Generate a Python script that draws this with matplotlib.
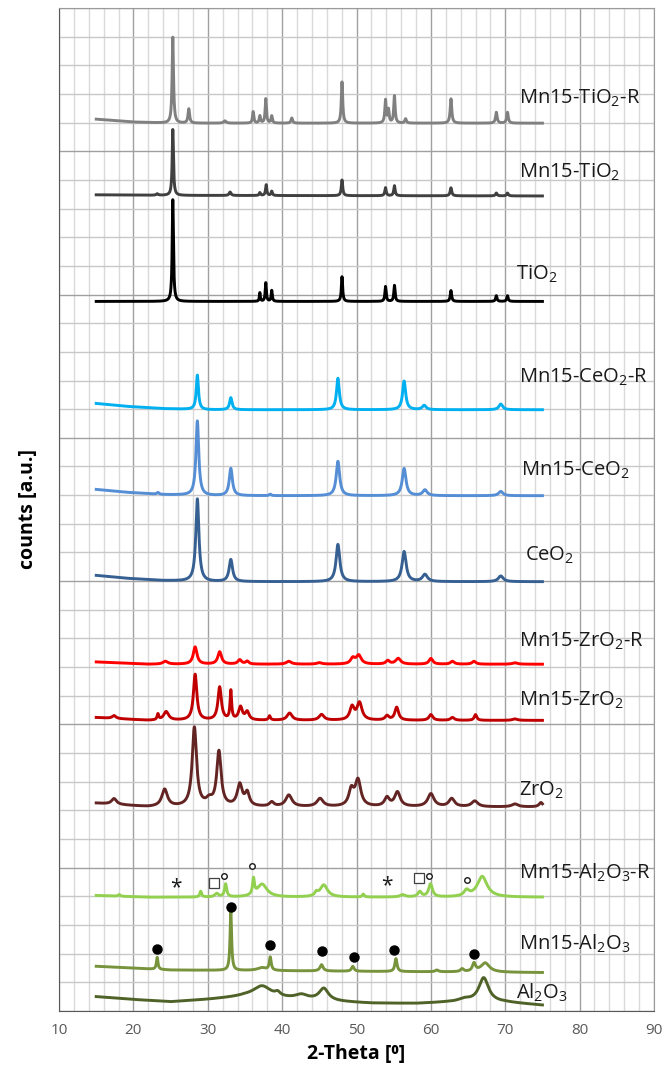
"""XRD patterns of Mn15 catalysts on TiO2, CeO2, ZrO2 and Al2O3 supports."""

import matplotlib.pyplot as plt
import numpy as np
from matplotlib.ticker import MultipleLocator


# ---- data ----------------------------------------------------------------
# each pattern: baseline control points + peaks (2-theta, height, FWHM)

tio2_r_base_x = [15, 20, 25, 75]
tio2_r_base_y = [31.12, 31.02, 30.98, 30.98]
tio2_r_pos = [25.3, 27.45, 32.3, 36.1, 37.0, 37.8, 38.6, 41.3, 48.05, 53.9, 54.3, 55.1, 56.6, 62.7, 68.8, 70.3]
tio2_r_h = [3.0, 0.5, 0.08, 0.4, 0.25, 0.85, 0.25, 0.18, 1.45, 0.8, 0.45, 0.95, 0.15, 0.85, 0.38, 0.38]
tio2_r_w = [0.22, 0.25, 0.4, 0.2, 0.2, 0.2, 0.2, 0.25, 0.22, 0.22, 0.2, 0.22, 0.25, 0.25, 0.25, 0.25]

mn_tio2_base_x = [15, 25, 75]
mn_tio2_base_y = [28.48, 28.46, 28.44]
mn_tio2_pos = [23.2, 25.3, 33.0, 37.0, 37.85, 38.6, 48.05, 53.9, 55.1, 62.7, 68.8, 70.3]
mn_tio2_h = [0.05, 2.3, 0.12, 0.1, 0.38, 0.15, 0.55, 0.28, 0.35, 0.28, 0.1, 0.1]
mn_tio2_w = [0.3, 0.2, 0.3, 0.2, 0.2, 0.2, 0.22, 0.22, 0.22, 0.25, 0.25, 0.25]

tio2_base_x = [15, 75]
tio2_base_y = [24.76, 24.76]
tio2_pos = [25.3, 37.0, 37.8, 38.6, 48.05, 53.9, 55.1, 62.7, 68.8, 70.3]
tio2_h = [3.55, 0.3, 0.65, 0.38, 0.87, 0.52, 0.56, 0.38, 0.2, 0.2]
tio2_w = [0.2, 0.15, 0.18, 0.18, 0.2, 0.2, 0.2, 0.22, 0.22, 0.22]

ceo2_r_base_x = [15, 19, 24, 30, 75]
ceo2_r_base_y = [21.2, 21.1, 21.02, 20.98, 20.98]
ceo2_r_pos = [28.6, 33.1, 47.5, 56.4, 59.1, 69.4]
ceo2_r_h = [1.2, 0.42, 1.1, 1.0, 0.15, 0.2]
ceo2_r_w = [0.35, 0.4, 0.45, 0.5, 0.6, 0.6]

mn_ceo2_base_x = [15, 19, 24, 30, 75]
mn_ceo2_base_y = [18.2, 18.1, 18.02, 17.98, 17.98]
mn_ceo2_pos = [23.3, 28.6, 33.1, 38.4, 47.5, 56.4, 59.2, 69.4]
mn_ceo2_h = [0.06, 2.6, 0.95, 0.05, 1.2, 0.95, 0.2, 0.15]
mn_ceo2_w = [0.3, 0.45, 0.5, 0.3, 0.55, 0.6, 0.7, 0.7]

ceo2_base_x = [15, 19, 24, 30, 75]
ceo2_base_y = [15.2, 15.1, 15.02, 14.98, 14.98]
ceo2_pos = [28.6, 33.1, 47.5, 56.4, 59.2, 69.4]
ceo2_h = [2.88, 0.77, 1.3, 1.05, 0.25, 0.2]
ceo2_w = [0.5, 0.55, 0.6, 0.65, 0.8, 0.8]

zro2_r_base_x = [15, 22, 75]
zro2_r_base_y = [12.18, 12.1, 12.1]
zro2_r_pos = [24.3, 28.3, 31.6, 34.3, 35.3, 40.9, 45.0, 49.5, 50.3, 54.2, 55.6, 60.0, 62.9, 65.8, 71.3]
zro2_r_h = [0.1, 0.6, 0.43, 0.15, 0.1, 0.1, 0.05, 0.2, 0.3, 0.12, 0.2, 0.2, 0.1, 0.1, 0.05]
zro2_r_w = [0.8, 0.6, 0.6, 0.6, 0.5, 0.8, 0.8, 0.7, 0.8, 0.6, 0.8, 0.6, 0.6, 0.6, 0.8]

mn_zro2_base_x = [15, 22, 75]
mn_zro2_base_y = [10.24, 10.14, 10.14]
mn_zro2_pos = [17.4, 23.3, 24.4, 28.3, 31.6, 33.1, 34.4, 35.3, 38.3, 41.0, 45.3, 49.4, 50.4,
               54.1, 55.4, 60.0, 62.9, 66.0, 71.3]
mn_zro2_h = [0.1, 0.2, 0.3, 1.6, 1.15, 1.0, 0.45, 0.28, 0.15, 0.25, 0.2, 0.45, 0.6,
             0.15, 0.45, 0.2, 0.1, 0.2, 0.05]
mn_zro2_w = [0.6, 0.25, 0.8, 0.55, 0.55, 0.25, 0.6, 0.6, 0.3, 0.8, 0.8, 0.7, 0.8,
             0.6, 0.6, 0.6, 0.6, 0.4, 0.8]

zro2_base_x = [15, 22, 75]
zro2_base_y = [7.25, 7.12, 7.12]
zro2_pos = [17.4, 24.2, 28.2, 30.2, 31.5, 34.3, 35.3, 38.6, 40.9, 45.1, 49.3, 50.2, 54.1,
            55.5, 60.0, 62.8, 65.9, 71.3, 74.8]
zro2_h = [0.2, 0.6, 2.75, 0.2, 1.9, 0.75, 0.45, 0.15, 0.4, 0.28, 0.55, 0.9, 0.3,
          0.5, 0.45, 0.28, 0.2, 0.1, 0.15]
zro2_w = [0.8, 0.9, 0.7, 1.0, 0.7, 0.8, 0.7, 0.7, 1.0, 1.0, 0.8, 0.9, 0.8,
          0.9, 1.0, 0.9, 1.0, 1.0, 0.6]

al2o3_r_base_x = [15, 22, 75]
al2o3_r_base_y = [4.03, 3.97, 3.97]
al2o3_r_pos = [18.1, 29.05, 31.2, 32.4, 36.15, 37.3, 44.6, 45.6, 50.9, 56.2, 58.5, 59.95, 64.8, 66.9]
al2o3_r_h = [0.06, 0.2, 0.12, 0.45, 0.55, 0.45, 0.12, 0.42, 0.1, 0.08, 0.18, 0.45, 0.2, 0.72]
al2o3_r_w = [0.3, 0.3, 0.6, 0.35, 0.3, 1.6, 0.5, 1.2, 0.3, 0.8, 0.6, 0.6, 0.8, 1.6]

mn_al2o3_base_x = [15, 25, 75]
mn_al2o3_base_y = [1.56, 1.43, 1.34]
mn_al2o3_pos = [23.2, 33.1, 37.3, 38.4, 45.3, 49.5, 55.3, 60.8, 64.2, 65.8, 67.3]
mn_al2o3_h = [0.42, 2.05, 0.1, 0.45, 0.22, 0.17, 0.45, 0.06, 0.1, 0.28, 0.32]
mn_al2o3_w = [0.25, 0.25, 1.5, 0.3, 0.5, 0.4, 0.35, 0.5, 0.5, 0.5, 1.4]

al2o3_base_x = [15, 20, 25, 30, 35, 48, 52, 58, 62, 70, 75]
al2o3_base_y = [0.5, 0.4, 0.32, 0.4, 0.5, 0.32, 0.27, 0.26, 0.3, 0.3, 0.2]
al2o3_pos = [37.3, 39.4, 42.6, 45.6, 64.5, 67.1]
al2o3_h = [0.4, 0.12, 0.15, 0.42, 0.1, 0.85]
al2o3_w = [3.0, 0.8, 2.0, 1.5, 2.0, 1.6]

# phase markers on the Al2O3 patterns
star_x = [25.7, 54.1]
star_y = [4.29, 4.36]
square_x = [30.9, 58.4]
square_y = [4.46, 4.63]
ring_x = [32.2, 36.0, 59.8, 64.8]
ring_y = [4.7, 5.05, 4.7, 4.56]
dot_x = [23.2, 33.1, 38.4, 45.3, 49.6, 55.1, 65.8]
dot_y = [2.17, 3.63, 2.30, 2.10, 1.89, 2.13, 1.98]

labels = [
    "Mn15-TiO$_2$-R", "Mn15-TiO$_2$", "TiO$_2$",
    "Mn15-CeO$_2$-R", "Mn15-CeO$_2$", "CeO$_2$",
    "Mn15-ZrO$_2$-R", "Mn15-ZrO$_2$", "ZrO$_2$",
    "Mn15-Al$_2$O$_3$-R", "Mn15-Al$_2$O$_3$", "Al$_2$O$_3$",
]

# ---- styling / layout ------------------------------------------------------
colors = [
    "#808080", "#404040", "#000000",
    "#00B0F0", "#558ED5", "#376092",
    "#FF0000", "#C00000", "#632523",
    "#92D050", "#77933C", "#4F6228",
]
label_xy = [
    (71.85, 31.86), (71.85, 29.28), (71.45, 25.72),
    (71.85, 22.1), (72.1, 18.86), (72.65, 15.89),
    (71.85, 12.9), (71.85, 10.84), (71.85, 7.7),
    (71.85, 4.81), (71.85, 2.34), (71.45, 0.63),
]

patterns = [
    (tio2_r_base_x, tio2_r_base_y, tio2_r_pos, tio2_r_h, tio2_r_w),
    (mn_tio2_base_x, mn_tio2_base_y, mn_tio2_pos, mn_tio2_h, mn_tio2_w),
    (tio2_base_x, tio2_base_y, tio2_pos, tio2_h, tio2_w),
    (ceo2_r_base_x, ceo2_r_base_y, ceo2_r_pos, ceo2_r_h, ceo2_r_w),
    (mn_ceo2_base_x, mn_ceo2_base_y, mn_ceo2_pos, mn_ceo2_h, mn_ceo2_w),
    (ceo2_base_x, ceo2_base_y, ceo2_pos, ceo2_h, ceo2_w),
    (zro2_r_base_x, zro2_r_base_y, zro2_r_pos, zro2_r_h, zro2_r_w),
    (mn_zro2_base_x, mn_zro2_base_y, mn_zro2_pos, mn_zro2_h, mn_zro2_w),
    (zro2_base_x, zro2_base_y, zro2_pos, zro2_h, zro2_w),
    (al2o3_r_base_x, al2o3_r_base_y, al2o3_r_pos, al2o3_r_h, al2o3_r_w),
    (mn_al2o3_base_x, mn_al2o3_base_y, mn_al2o3_pos, mn_al2o3_h, mn_al2o3_w),
    (al2o3_base_x, al2o3_base_y, al2o3_pos, al2o3_h, al2o3_w),
]


def profile(two_theta, base_x, base_y, pos, height, fwhm):
    """Baseline plus a sum of Lorentzian peaks."""
    y = np.interp(two_theta, base_x, base_y)
    for p, h, w in zip(pos, height, fwhm):
        y = y + h / (1.0 + ((two_theta - p) / (w / 2.0)) ** 2)
    return y


plt.rcParams["font.family"] = ["Open Sans", "DejaVu Sans"]
plt.rcParams["mathtext.default"] = "regular"

fig = plt.figure(figsize=(6.67, 10.77), dpi=100)
ax = fig.add_axes([0.0885, 0.0613, 0.892, 0.9313])

two_theta = np.linspace(15, 75, 3001)
for (bx, by, pos, h, w), color in zip(patterns, colors):
    ax.plot(two_theta, profile(two_theta, bx, by, pos, h, w), color=color, linewidth=2.1,
            solid_joinstyle="round", zorder=3)

for text, (x, y) in zip(labels, label_xy):
    ax.text(x, y, text, fontsize=14.5, va="center", ha="left", color="#1a1a1a", zorder=4)

for x, y in zip(star_x, star_y):
    ax.text(x, y, "*", fontsize=15, ha="center", va="center", color="#1a1a1a", zorder=4)
ax.plot(square_x, square_y, "s", markersize=7, markerfacecolor="white",
        markeredgecolor="#404040", markeredgewidth=0.9, zorder=4)
ax.plot(ring_x, ring_y, "o", markersize=4, markerfacecolor="white",
        markeredgecolor="#1a1a1a", markeredgewidth=1.0, zorder=4)
ax.plot(dot_x, dot_y, "o", markersize=6.5, color="black", zorder=4)

ax.set_xlim(10, 90)
ax.set_ylim(0, 35)
ax.xaxis.set_major_locator(MultipleLocator(10))
ax.xaxis.set_minor_locator(MultipleLocator(2))
ax.yaxis.set_major_locator(MultipleLocator(5))
ax.yaxis.set_minor_locator(MultipleLocator(1))
ax.grid(True, which="major", color="#a0a0a0", linewidth=1.0)
ax.xaxis.grid(True, which="minor", color="#dadada", linewidth=1.0)
ax.yaxis.grid(True, which="minor", color="#c8c8c8", linewidth=1.0)
ax.set_axisbelow(True)
ax.tick_params(which="both", length=0)
ax.tick_params(axis="x", labelsize=11, labelcolor="#595959", pad=9)
ax.set_yticklabels([])
for side in ["top", "right"]:
    ax.spines[side].set_color("#9a9a9a")
for side in ["left", "bottom"]:
    ax.spines[side].set_color("#595959")

ax.set_xlabel("2-Theta [⁰]", fontsize=14, fontweight="bold", labelpad=4)
ax.set_ylabel("counts [a.u.]", fontsize=14, fontweight="bold", labelpad=12)

fig.savefig("out.png", dpi=100)
